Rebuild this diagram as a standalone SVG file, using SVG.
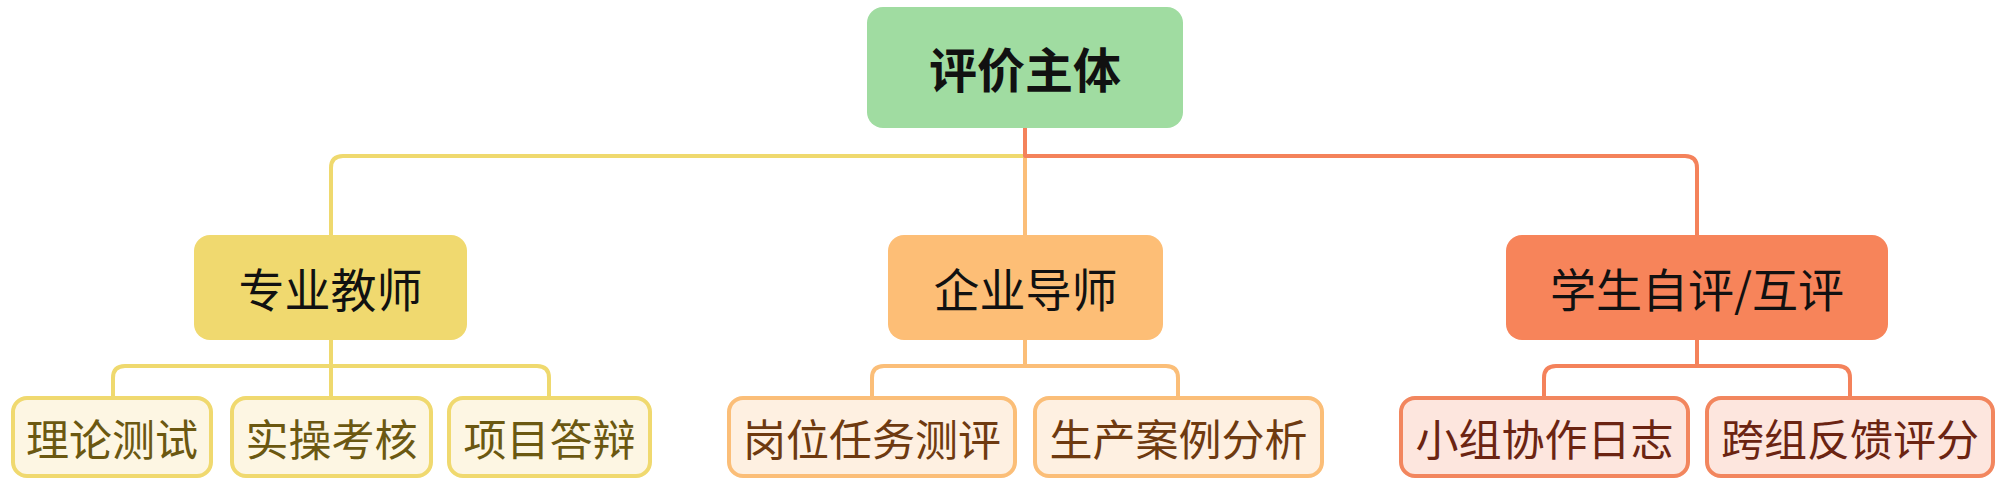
<svg xmlns="http://www.w3.org/2000/svg" width="2000" height="484" viewBox="0 0 2000 484">
<style>
text{font-family:"Noto Sans CJK SC","Noto Sans",sans-serif;text-anchor:middle;dominant-baseline:central}
.conn path{fill:none;stroke-width:4;stroke-linejoin:round}
.cy{stroke:#EFD96E}
.co{stroke:#FBBE78}
.cr{stroke:#F4825B}
.root rect{fill:#A0DCA1}
.root text{font-size:48px;font-weight:700;fill:#111}
.l1 text{font-size:46px;fill:#111}
.l2 rect{stroke-width:4}
.l2 text{font-size:43px}
.y1{fill:#F0D96F}
.o1{fill:#FDBE76}
.r1{fill:#F7845A}
.y2 rect{fill:#FDF6E3;stroke:#F0D96F}
.y2 text{fill:#6B5811}
.o2 rect{fill:#FEF0E1;stroke:#FBBE78}
.o2 text{fill:#6E3A10}
.r2 rect{fill:#FDE6DE;stroke:#F2865E}
.r2 text{fill:#6B2412}
</style>
<g id="connectors" class="conn">
<path class="cy" d="M1025,128 V156 H343 Q331,156 331,168 V235"/>
<path class="co" d="M1025,128 V235"/>
<path class="cr" d="M1025,128 V156 H1685 Q1697,156 1697,168 V235"/>
<path class="cy" d="M331,340 V366 H125 Q113,366 113,378 V396"/>
<path class="cy" d="M331,340 V396"/>
<path class="cy" d="M331,366 H537 Q549,366 549,378 V396"/>
<path class="co" d="M1025,340 V366 H884 Q872,366 872,378 V396"/>
<path class="co" d="M1025,366 H1166 Q1178,366 1178,378 V396"/>
<path class="cr" d="M1697,340 V366 H1556 Q1544,366 1544,378 V396"/>
<path class="cr" d="M1697,366 H1838 Q1850,366 1850,378 V396"/>
</g>
<g id="root" class="root">
<rect x="867" y="7" width="316" height="121" rx="16"/>
<text x="1025" y="67">评价主体</text>
</g>
<g id="teacher" class="l1">
<rect class="y1" x="194" y="235" width="273" height="105" rx="16"/>
<text x="330.5" y="287">专业教师</text>
</g>
<g id="mentor" class="l1">
<rect class="o1" x="888" y="235" width="275" height="105" rx="16"/>
<text x="1025.5" y="287">企业导师</text>
</g>
<g id="student" class="l1">
<rect class="r1" x="1506" y="235" width="382" height="105" rx="16"/>
<text x="1697" y="287">学生自评/互评</text>
</g>
<g id="theory" class="l2 y2">
<rect x="13" y="398" width="198" height="78" rx="14"/>
<text x="112" y="437">理论测试</text>
</g>
<g id="practice" class="l2 y2">
<rect x="232" y="398" width="199" height="78" rx="14"/>
<text x="331.5" y="437">实操考核</text>
</g>
<g id="defense" class="l2 y2">
<rect x="449" y="398" width="201" height="78" rx="14"/>
<text x="549.5" y="437">项目答辩</text>
</g>
<g id="post" class="l2 o2">
<rect x="729" y="398" width="286" height="78" rx="14"/>
<text x="872" y="437">岗位任务测评</text>
</g>
<g id="case" class="l2 o2">
<rect x="1035" y="398" width="287" height="78" rx="14"/>
<text x="1178.5" y="437">生产案例分析</text>
</g>
<g id="log" class="l2 r2">
<rect x="1401" y="398" width="287" height="78" rx="14"/>
<text x="1544.5" y="437">小组协作日志</text>
</g>
<g id="cross" class="l2 r2">
<rect x="1707" y="398" width="286" height="78" rx="14"/>
<text x="1850" y="437">跨组反馈评分</text>
</g>
</svg>
